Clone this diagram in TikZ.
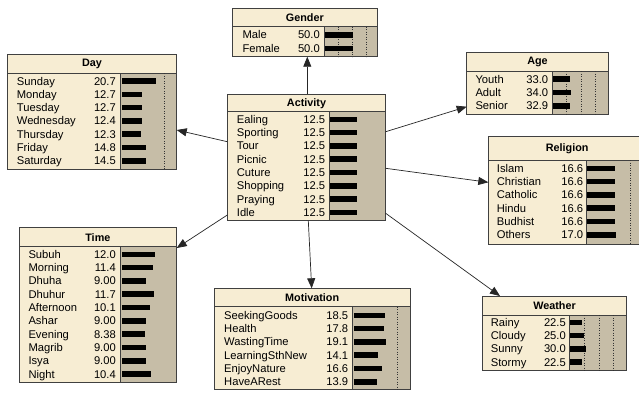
\documentclass[tikz,border=0pt]{standalone}
\usepackage{fontspec}
\setmainfont{Liberation Sans}
\usetikzlibrary{arrows.meta,fit}
\definecolor{creamc}{HTML}{F7EDD3}
\definecolor{grayc}{HTML}{C6BDA7}
\definecolor{edgec}{HTML}{404040}
\tikzset{
  boxline/.style={draw=edgec, line width=0.8pt},
  dotline/.style={draw=black!80, line width=0.5pt, dotted},
  titletext/.style={font=\fontsize{10.8}{12}\selectfont\bfseries, inner sep=0pt},
  rowtext/.style={font=\fontsize{11.2}{13}\selectfont, inner sep=0pt},
  barfill/.style={fill=black},
  link/.style={draw=black!85, line width=0.7pt, -{Triangle[length=10pt,width=8pt]}},
}
% #1 name, #2 title, #3 left, #4 top, #5 right, #6 title bottom, #7 bottom, #8 separator
\newcommand\bnnode[8]{%
  \fill[creamc] (#3,#4) rectangle (#5,#7);
  \fill[grayc] (#8,#6) rectangle (#5,#7);
  \draw[boxline] (#3,#6) -- (#5,#6);
  \draw[boxline] (#8,#6) -- (#8,#7);
  \path (#3,#4) coordinate (#1-nw) (#5,#7) coordinate (#1-se);
  \node[boxline, inner sep=0pt, fit=(#1-nw)(#1-se)] (#1) {};
  \node[titletext] (#1-title) at ({(#3+#5)/2},{(#4+#6)/2+0.5}) {#2};
}
% #1 label x, #2 value right x, #3 y, #4 label, #5 value, #6 bar start, #7 bar end
\newcommand\bnrow[7]{%
  \node[rowtext, anchor=base west] at (#1,#3+4) {#4};
  \node[rowtext, anchor=base east] at (#2,#3+4) {#5};
  \fill[barfill] (#6,#3-2.8) rectangle (#7,#3+2.8);
}
\newcommand\bndots[3]{% x, top, bottom
  \draw[dotline] (#1,#2) -- (#1,#3);
}
\begin{document}
\begin{tikzpicture}[x=1pt,y=-1pt]
\useasboundingbox (0,0) rectangle (639,392);
\fill[white] (0,0) rectangle (639,392);
\clip (0,0) rectangle (639,392);

% Gender
\bnnode{gender}{Gender}{232.3}{8.3}{377.3}{26.7}{56.7}{324.3}
\bndots{338.3}{26.7}{56.7}\bndots{352.7}{26.7}{56.7}\bndots{366.7}{26.7}{56.7}
\bnrow{242.3}{320}{34.7}{Male}{50.0}{325}{353}
\bnrow{242.3}{320}{48.3}{Female}{50.0}{325}{353}

% Activity
\bnnode{act}{Activity}{227.3}{94}{385.7}{111.7}{220.7}{329.3}
\bnrow{236.7}{325.3}{119.3}{Ealing}{12.5}{330}{357.3}
\bnrow{236.7}{325.3}{132.6}{Sporting}{12.5}{330}{357.3}
\bnrow{236.7}{325.3}{145.9}{Tour}{12.5}{330}{357.3}
\bnrow{236.7}{325.3}{159.2}{Picnic}{12.5}{330}{357.3}
\bnrow{236.7}{325.3}{172.5}{Cuture}{12.5}{330}{357.3}
\bnrow{236.7}{325.3}{185.8}{Shopping}{12.5}{330}{357.3}
\bnrow{236.7}{325.3}{199.1}{Praying}{12.5}{330}{357.3}
\bnrow{236.7}{325.3}{212.4}{Idle}{12.5}{330}{357.3}

% Day
\bnnode{day}{Day}{7.3}{54.3}{176.7}{73.3}{169.3}{120.7}
\bndots{164.3}{73.3}{169.3}
\bnrow{16.7}{116}{81}{Sunday}{20.7}{121.5}{156}
\bnrow{16.7}{116}{94.3}{Monday}{12.7}{121.5}{142}
\bnrow{16.7}{116}{107.6}{Tuesday}{12.7}{121.5}{142}
\bnrow{16.7}{116}{120.9}{Wednesday}{12.4}{121.5}{142}
\bnrow{16.7}{116}{134.2}{Thursday}{12.3}{121.5}{141}
\bnrow{16.7}{116}{147.5}{Friday}{14.8}{121.5}{146}
\bnrow{16.7}{116}{160.8}{Saturday}{14.5}{121.5}{146}

% Age
\bnnode{age}{Age}{466.7}{52.3}{608.3}{71}{114.3}{552.3}
\bndots{566.7}{71}{114.3}\bndots{581.7}{71}{114.3}\bndots{595.7}{71}{114.3}
\bnrow{475.3}{548.3}{79}{Youth}{33.0}{553}{570}
\bnrow{475.3}{548.3}{92.4}{Adult}{34.0}{553}{571}
\bnrow{475.3}{548.3}{105.8}{Senior}{32.9}{553}{570}

% Religion
\bnnode{rel}{Religion}{488.3}{136.7}{646}{160}{244}{586}
\bndots{630.7}{160}{244}
\bnrow{496.7}{583.3}{168.3}{Islam}{16.6}{587}{615}
\bnrow{496.7}{583.3}{181.6}{Christian}{16.6}{587}{615}
\bnrow{496.7}{583.3}{194.9}{Catholic}{16.6}{587}{615}
\bnrow{496.7}{583.3}{208.2}{Hindu}{16.6}{587}{615}
\bnrow{496.7}{583.3}{221.5}{Budhist}{16.6}{587}{615}
\bnrow{496.7}{583.3}{234.8}{Others}{17.0}{587}{616}

% Time
\bnnode{time}{Time}{19}{227.7}{176.7}{246.7}{382.7}{120.7}
\bnrow{28.3}{116}{254.3}{Subuh}{12.0}{121.5}{155.3}
\bnrow{28.3}{116}{267.6}{Morning}{11.4}{121.5}{153.3}
\bnrow{28.3}{116}{280.9}{Dhuha}{9.00}{121.5}{146}
\bnrow{28.3}{116}{294.2}{Dhuhur}{11.7}{121.5}{154.3}
\bnrow{28.3}{116}{307.5}{Afternoon}{10.1}{121.5}{149.7}
\bnrow{28.3}{116}{320.8}{Ashar}{9.00}{121.5}{146}
\bnrow{28.3}{116}{334.1}{Evening}{8.38}{121.5}{145}
\bnrow{28.3}{116}{347.4}{Magrib}{9.00}{121.5}{146}
\bnrow{28.3}{116}{360.7}{Isya}{9.00}{121.5}{146}
\bnrow{28.3}{116}{374}{Night}{10.4}{121.5}{150.7}

% Motivation
\bnnode{mot}{Motivation}{214.3}{288.3}{410}{306.7}{389.3}{352.7}
\bndots{397.3}{306.7}{389.3}
\bnrow{224}{348.3}{315.3}{SeekingGoods}{18.5}{353.5}{385}
\bnrow{224}{348.3}{328.6}{Health}{17.8}{353.5}{384}
\bnrow{224}{348.3}{341.9}{WastingTime}{19.1}{353.5}{386}
\bnrow{224}{348.3}{355.2}{LearningSthNew}{14.1}{353.5}{377.7}
\bnrow{224}{348.3}{368.5}{EnjoyNature}{16.6}{353.5}{381.7}
\bnrow{224}{348.3}{381.8}{HaveARest}{13.9}{353.5}{376.7}

% Weather
\bnnode{wea}{Weather}{482.3}{296}{626.7}{315}{370.7}{569.3}
\bndots{584.3}{315}{370.7}\bndots{599}{315}{370.7}\bndots{613.3}{315}{370.7}
\bnrow{490.7}{566}{322.3}{Rainy}{22.5}{570}{582.3}
\bnrow{490.7}{566}{335.6}{Cloudy}{25.0}{570}{584}
\bnrow{490.7}{566}{348.9}{Sunny}{30.0}{570}{586}
\bnrow{490.7}{566}{362.2}{Stormy}{22.5}{570}{582.3}

% connector end points
\coordinate (aG) at (307.3,94);    \coordinate (gA) at (307.3,56.7);
\coordinate (aD) at (227.3,141.7); \coordinate (dA) at (176.7,130);
\coordinate (aAg) at (385.7,131.7);\coordinate (agA) at (466.7,106.7);
\coordinate (aR) at (385.7,168.3); \coordinate (rA) at (488.3,182.3);
\coordinate (aT) at (227.3,215);   \coordinate (tA) at (176.7,248);
\coordinate (aM) at (308.3,220.7); \coordinate (mA) at (311.7,288.3);
\coordinate (aW) at (385.7,213.3); \coordinate (wA) at (500,296);

\draw[link] (aG) -- (gA);
\draw[link] (aD) -- (dA);
\draw[link] (aAg) -- (agA);
\draw[link] (aR) -- (rA);
\draw[link] (aT) -- (tA);
\draw[link] (aM) -- (mA);
\draw[link] (aW) -- (wA);
\end{tikzpicture}
\end{document}
